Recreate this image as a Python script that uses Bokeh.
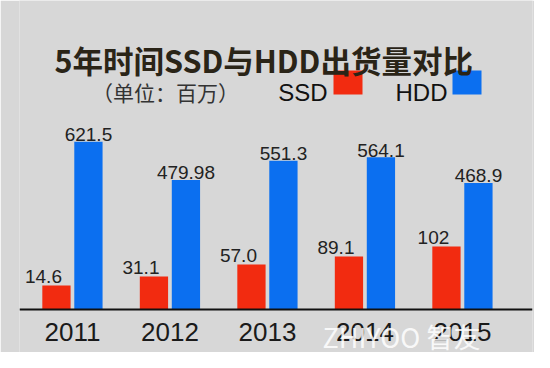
from bokeh.plotting import figure
from bokeh.models import ColumnDataSource, Range1d, FixedTicker, Label
from bokeh.core.properties import value
from bokeh.embed import file_html
from bokeh.resources import INLINE

# ---- data ----
years = ["2011", "2012", "2013", "2014", "2015"]
ssd_labels = ["14.6", "31.1", "57.0", "89.1", "102"]
hdd_values = [621.5, 479.98, 551.3, 564.1, 468.9]
hdd_labels = ["621.5", "479.98", "551.3", "564.1", "468.9"]
# SSD bars in the infographic are drawn taller than scale; heights
ssd_bar_heights = [89, 122, 167, 196, 233]

title_text = "5年时间SSD与HDD出货量对比"
unit_text = "（单位：百万）"
series_names = ["SSD", "HDD"]
colors = ["#f22b10", "#0b6ff0"]
watermark = "ZHIYOO 智友"

# ---- geometry (positions in picture pixels) ----
W, H = 534, 352
ML, MR = 19, 2
frame_w = W - ML - MR
PX_PER_UNIT = 0.27
BASE_Y = 309
x0, x1 = -0.543, -0.543 + frame_w / 97.5
y0 = -(H - BASE_Y) / PX_PER_UNIT
y1 = BASE_Y / PX_PER_UNIT

def px_x(px):
    return x0 + (px - ML) * (x1 - x0) / frame_w

def px_y(py):
    return (BASE_Y - py) / PX_PER_UNIT

bg = "#d7d7d7"
p = figure(width=W, height=H, output_backend="svg", toolbar_location=None,
           x_range=Range1d(x0, x1), y_range=Range1d(y0, y1),
           min_border_left=ML, min_border_right=MR, min_border_top=0,
           min_border_bottom=0)
p.background_fill_color = bg
p.border_fill_color = bg
p.outline_line_color = None
p.xgrid.grid_line_color = None
p.ygrid.grid_line_color = None
p.yaxis.visible = False

idx = list(range(len(years)))
off = 0.164
bw = 0.29
src = ColumnDataSource(dict(
    xs=[i - off for i in idx], xh=[i + off for i in idx],
    ssd=ssd_bar_heights, hdd=hdd_values,
    ssd_lab=ssd_labels, hdd_lab=hdd_labels))

p.vbar(x="xs", top="ssd", bottom=0, width=bw, source=src,
       fill_color=colors[0], line_color=None)
p.vbar(x="xh", top="hdd", bottom=0, width=bw, source=src,
       fill_color=colors[1], line_color=None)

p.text(x="xs", y="ssd", text="ssd_lab", source=src, x_offset=-13, y_offset=-9,
       text_align="center", text_baseline="alphabetic",
       text_font=value("Liberation Sans"), text_font_size="19px", text_color="#222222")
p.text(x="xh", y="hdd", text="hdd_lab", source=src, y_offset=-7,
       text_align="center", text_baseline="alphabetic",
       text_font=value("Liberation Sans"), text_font_size="19px", text_color="#222222")

ax = p.xaxis[0]
ax.fixed_location = 0
ax.ticker = FixedTicker(ticks=idx)
ax.major_label_overrides = {i: y for i, y in zip(idx, years)}
ax.major_label_text_font = "Liberation Sans"
ax.major_label_text_font_size = "26px"
ax.major_label_text_color = "#1a1a1a"
ax.major_label_standoff = 7
ax.axis_line_color = "#111111"
ax.axis_line_width = 2
ax.major_tick_line_color = None
ax.minor_tick_line_color = None

# title and legend
p.add_layout(Label(x=px_x(54), y=px_y(59), text=title_text,
                   text_font="Noto Sans CJK SC", text_font_style="bold",
                   text_font_size="30.5px", text_color="#2a2417",
                   text_baseline="alphabetic"))
p.add_layout(Label(x=px_x(165), y=px_y(91), text=unit_text,
                   text_font="Noto Sans CJK SC", text_font_size="21px",
                   text_color="#333333", text_align="center", text_baseline="alphabetic"))
p.add_layout(Label(x=px_x(327), y=px_y(92), text=series_names[0],
                   text_font="Liberation Sans", text_font_size="24px",
                   text_color="#111111", text_align="right", text_baseline="alphabetic"))
p.add_layout(Label(x=px_x(447), y=px_y(92), text=series_names[1],
                   text_font="Liberation Sans", text_font_size="24px",
                   text_color="#111111", text_align="right", text_baseline="alphabetic"))
p.rect(x=[px_x(347.5), px_x(466.5)], y=[px_y(82), px_y(82)], width=29, height=24,
       width_units="screen", height_units="screen", fill_color=colors, line_color=None)

p.add_layout(Label(x=px_x(322), y=px_y(336), text=watermark,
                   text_font="Noto Sans CJK SC", text_font_size="27px",
                   text_color="white", text_alpha=0.85, text_baseline="alphabetic"))

open("out.html", "w").write(file_html(p, INLINE))
